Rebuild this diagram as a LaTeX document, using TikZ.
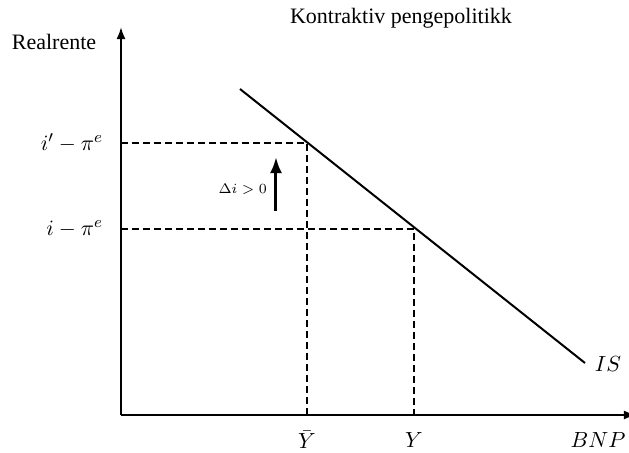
\documentclass[tikz,border=0pt]{standalone}
\usepackage{amsmath}
\usepackage{fontspec}
\setmainfont{Liberation Serif}
\usepackage{tikz}
\usetikzlibrary{positioning}
\usetikzlibrary{arrows.meta}

\begin{document}
\begin{tikzpicture}[x=0.5pt, y=-0.5pt, font=\fontsize{11}{13}\selectfont]
    % Styles:
    \tikzset{axis/.style={line width=1pt, -{Latex[length=6pt, width=4.5pt]}}}
    \tikzset{guide/.style={line width=0.75pt, dash pattern=on 3.5pt off 2pt}}
    \tikzset{curve/.style={line width=1pt}}
    \useasboundingbox (0,0) rectangle (629,452);

    % Points:
    \coordinate (o)    at (121,415);
    \coordinate (ytop) at (121,27);
    \coordinate (xend) at (636,415);
    \coordinate (is1)  at (240,89);
    \coordinate (is2)  at (585,363);
    \coordinate (a)    at (307,143);
    \coordinate (b)    at (414,229);
    \coordinate (al)   at (121,143);
    \coordinate (bl)   at (121,229);
    \coordinate (ab)   at (307,415);
    \coordinate (bb)   at (414,415);
    \coordinate (d1)   at (276,211);
    \coordinate (d2)   at (276,157);

    % Axes and curve:
    \draw[axis] (o) -- (ytop);
    \draw[axis] (o) -- (xend);
    \draw[curve] (is1) -- (is2);

    % Dashed guides:
    \draw[guide] (al) -- (a) -- (ab);
    \draw[guide] (bl) -- (b) -- (bb);

    % Shift arrow:
    \draw[line width=1.5pt, -{Latex[length=8pt, width=6pt]}] (d1) -- (d2);

    % Labels:
    \node (title) at (401,18) {Kontraktiv pengepolitikk};
    \node (ylab)  at (54,42) {Realrente};
    \node[anchor=east] (ihigh) at (110,143) {$i' - \pi^e$};
    \node[anchor=east] (ilow)  at (110,229) {$i - \pi^e$};
    \node[font=\fontsize{7}{8}\selectfont] (dlab) [left = 1pt of d1, yshift=11pt] {$\Delta i > 0$};
    \node (ybar) at (307,440) {$\bar{Y}$};
    \node (ynat) at (414,440) {$Y$};
    \node (bnp)  at (598,440) {$BNP$};
    \node (is)   at (608,364) {$IS$};
\end{tikzpicture}
\end{document}
